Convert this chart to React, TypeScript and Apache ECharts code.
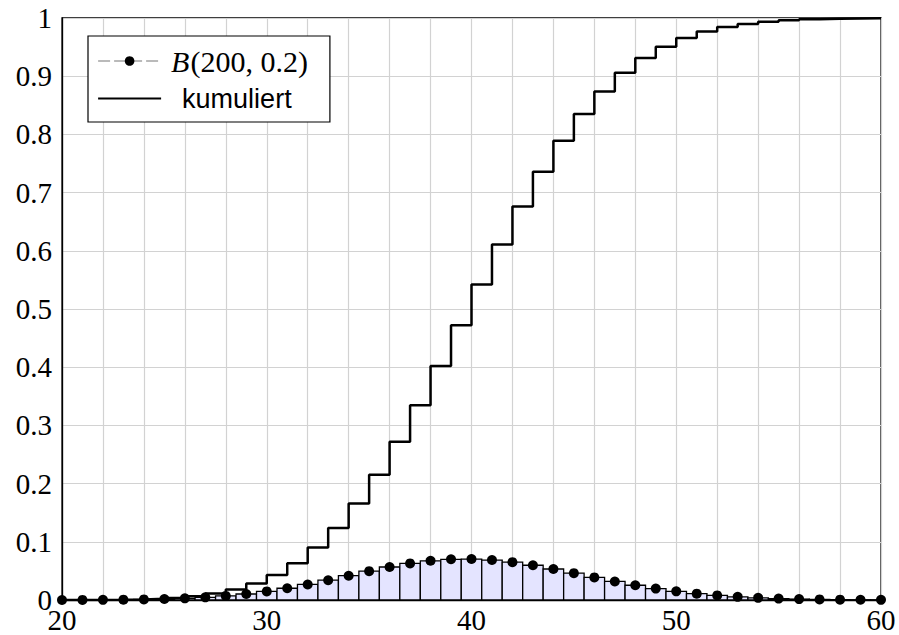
import React, { useEffect, useRef } from "react";
import * as echarts from "echarts";

const kValues = [20, 21, 22, 23, 24, 25, 26, 27, 28, 29, 30, 31, 32, 33, 34, 35, 36, 37, 38, 39, 40, 41, 42, 43, 44, 45, 46, 47, 48, 49, 50, 51, 52, 53, 54, 55, 56, 57, 58, 59, 60];

const pmfValues = [
  0.00006, 0.00013, 0.00027, 0.00051, 0.00095, 0.00167, 0.00281, 0.00452, 0.00698, 0.01035,
  0.01475, 0.02022, 0.0267, 0.03398, 0.04173, 0.04948, 0.05669, 0.06282, 0.06737, 0.06996,
  0.07037, 0.06866, 0.06498, 0.05969, 0.05324, 0.04614, 0.03887, 0.03184, 0.02537, 0.01967,
  0.01485, 0.01092, 0.00782, 0.00546, 0.00372, 0.00247, 0.0016, 0.00101, 0.00062, 0.00037,
  0.00022,
];

const cdfValues = [
  0.0001, 0.0002, 0.0005, 0.001, 0.002, 0.0036, 0.0064, 0.011, 0.0179, 0.0283,
  0.043, 0.0633, 0.09, 0.1239, 0.1657, 0.2151, 0.2718, 0.3346, 0.402, 0.472,
  0.5423, 0.611, 0.676, 0.7357, 0.7889, 0.8351, 0.8739, 0.9058, 0.9312, 0.9508,
  0.9657, 0.9766, 0.9844, 0.9899, 0.9936, 0.9961, 0.9977, 0.9987, 0.9993, 0.9997,
  0.9999,
];

const xTickValues = [20, 30, 40, 50, 60];
const yTickLabels = ["0", "0.1", "0.2", "0.3", "0.4", "0.5", "0.6", "0.7", "0.8", "0.9", "1"];

const pmfName = "B(200, 0.2)";
const cdfName = "kumuliert";

const SERIF = "Liberation Serif";
const SANS = "Liberation Sans";
const GRID_COLOR = "#d2d2d2";

export default function App() {
  const ref = useRef<HTMLDivElement>(null);

  useEffect(() => {
    if (!ref.current) return;
    const chart = echarts.init(ref.current, undefined, { renderer: "svg" });

    const pmfData = kValues.map((k, i) => [k, pmfValues[i]]);
    const cdfData = kValues.map((k, i) => [k, cdfValues[i]]);

    const option: any = {
      animation: false,
      backgroundColor: "#fff",
      grid: {
        left: 62,
        right: 18,
        top: 18,
        bottom: 35,
        show: true,
        borderColor: "#000",
        borderWidth: 1.3,
        backgroundColor: "transparent",
      },
      legend: {
        left: 88,
        top: 36,
        orient: "vertical",
        padding: [10, 22, 10, 9],
        itemGap: 9,
        itemWidth: 63,
        itemHeight: 12,
        borderColor: "#000",
        borderWidth: 1.2,
        borderRadius: 0,
        backgroundColor: "#fff",
        selectedMode: false,
        data: [
          {
            name: pmfName,
            lineStyle: { color: "#777", width: 1.2, type: [12, 4], opacity: 1 },
          },
          {
            name: cdfName,
            itemStyle: { opacity: 0 },
            lineStyle: { color: "#000", width: 2.2, opacity: 1 },
          },
        ],
        formatter: (name: string) =>
          name === cdfName ? "{k|" + cdfName + "}" : "{i|B}{n|(200, 0.2)}",
        textStyle: {
          color: "#000",
          rich: {
            i: { fontFamily: SERIF, fontStyle: "italic", fontSize: 30, color: "#000", padding: [0, 1, 0, 5] },
            n: { fontFamily: SERIF, fontSize: 30, color: "#000" },
            k: { fontFamily: SANS, fontSize: 27, color: "#000", padding: [0, 0, 0, 16] },
          },
        },
      },
      xAxis: {
        type: "value",
        min: 20,
        max: 60,
        interval: 10,
        axisLine: { show: true, lineStyle: { color: "#000", width: 1.3 } },
        axisTick: { show: false },
        axisLabel: {
          color: "#000",
          fontFamily: SERIF,
          fontSize: 29,
          lineHeight: 20,
          margin: 10,
          formatter: (v: number) => (xTickValues.indexOf(v) >= 0 ? String(v) : ""),
        },
        splitLine: { show: true, lineStyle: { color: GRID_COLOR, width: 1.2 } },
        minorTick: { show: false, splitNumber: 5 },
        minorSplitLine: { show: true, lineStyle: { color: GRID_COLOR, width: 1.2 } },
      },
      yAxis: {
        type: "value",
        min: 0,
        max: 1,
        interval: 0.1,
        axisLine: { show: true, lineStyle: { color: "#000", width: 1.3 } },
        axisTick: { show: false },
        axisLabel: {
          color: "#000",
          fontFamily: SERIF,
          fontSize: 29,
          lineHeight: 20,
          margin: 10,
          formatter: (v: number) => yTickLabels[Math.round(v * 10)] ?? "",
        },
        splitLine: { show: true, lineStyle: { color: GRID_COLOR, width: 1.2 } },
      },
      series: [
        {
          type: "custom",
          name: "bars",
          data: pmfData,
          z: 2,
          renderItem: (params: any, api: any) => {
            const k = api.value(0);
            const p = api.value(1);
            const tl = api.coord([k - 0.5, p]);
            const br = api.coord([k + 0.5, 0]);
            const shape = echarts.graphic.clipRectByRect(
              { x: tl[0], y: tl[1], width: br[0] - tl[0], height: br[1] - tl[1] },
              {
                x: params.coordSys.x,
                y: params.coordSys.y,
                width: params.coordSys.width,
                height: params.coordSys.height,
              }
            );
            if (!shape) return null;
            return {
              type: "rect",
              shape,
              style: { fill: "#e4e4ff", stroke: "#000", lineWidth: 1.3 },
            };
          },
        },
        {
          type: "line",
          name: cdfName,
          data: cdfData,
          step: "end",
          symbol: "none",
          z: 3,
          lineStyle: { color: "#000", width: 2.5 },
          itemStyle: { color: "#000" },
        },
        {
          type: "line",
          name: pmfName,
          data: pmfData,
          symbol: "circle",
          symbolSize: 10,
          showSymbol: true,
          clip: false,
          z: 4,
          itemStyle: { color: "#000" },
          lineStyle: { width: 0, opacity: 0, color: "#777" },
        },
      ],
    };

    chart.setOption(option);
    return () => chart.dispose();
  }, []);

  return (
    <div
      ref={ref}
      style={{ position: "fixed", left: 0, top: 0, width: 899, height: 635, background: "#fff" }}
    />
  );
}
